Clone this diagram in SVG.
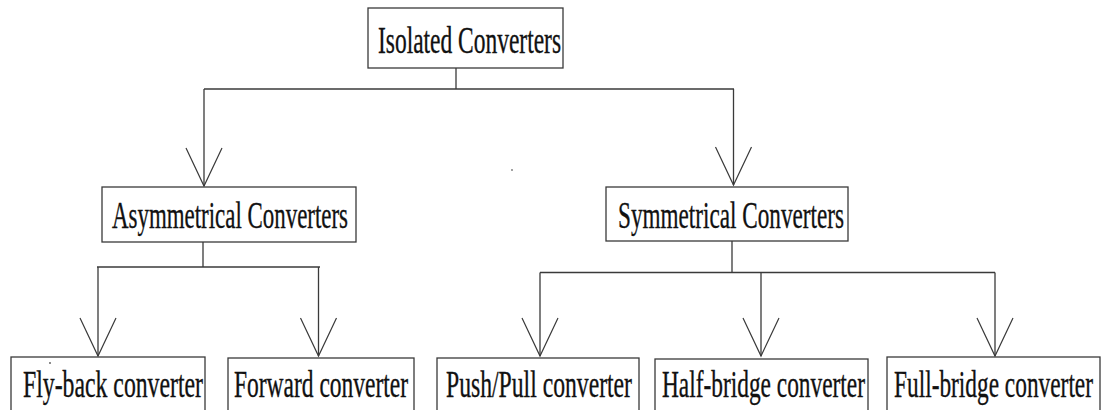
<svg xmlns="http://www.w3.org/2000/svg" width="1113" height="410" viewBox="0 0 1113 410">
  <style>
    .box { fill: #ffffff; stroke: #3a3a3a; stroke-width: 1.3; }
    .lbl { font-family: "Liberation Serif", "Times New Roman", serif; font-size: 37px; fill: #111111; stroke: #111111; stroke-width: 0.35; }
    .wire { fill: none; stroke: #3a3a3a; stroke-width: 1.3; }
    .arr { marker-end: url(#vee); }
  </style>
  <defs>
    <marker id="vee" markerUnits="userSpaceOnUse" viewBox="-40 -20 42 40" refX="0" refY="0" markerWidth="42" markerHeight="40" orient="auto" overflow="visible">
      <path d="M-38,-18 L0,0 L-38,18" fill="none" stroke="#3a3a3a" stroke-width="1.2"/>
    </marker>
  </defs>

  <rect width="1113" height="410" fill="#ffffff"/>

  <!-- connectors -->
  <g id="connectors">
    <!-- root to second level -->
    <path class="wire" d="M456,68 V89"/>
    <path class="wire" d="M204,89 H734"/>
    <path class="wire arr" d="M204,89 V186"/>
    <path class="wire arr" d="M733.5,89 V185"/>
    <!-- asymmetrical branch -->
    <path class="wire" d="M203,242 V267"/>
    <path class="wire" d="M97,267 H320"/>
    <path class="wire arr" d="M98,267 V356"/>
    <path class="wire arr" d="M318.5,267 V356"/>
    <!-- symmetrical branch -->
    <path class="wire" d="M732,241 V272.5"/>
    <path class="wire" d="M540,272.5 H995"/>
    <path class="wire arr" d="M540,272.5 V356"/>
    <path class="wire arr" d="M761,272.5 V356"/>
    <path class="wire arr" d="M995,272.5 V356"/>
  </g>

  <!-- top level -->
  <g id="isolated">
    <rect class="box" x="368" y="8" width="195" height="60"/>
    <text class="lbl" transform="translate(378,53) scale(0.63,1)" textLength="290.5" lengthAdjust="spacingAndGlyphs">Isolated Converters</text>
  </g>

  <!-- second level -->
  <g id="asymmetrical">
    <rect class="box" x="102" y="187" width="254" height="55"/>
    <text class="lbl" transform="translate(112,228) scale(0.63,1)" textLength="374.6" lengthAdjust="spacingAndGlyphs">Asymmetrical Converters</text>
  </g>
  <g id="symmetrical">
    <rect class="box" x="606" y="187" width="242" height="54"/>
    <text class="lbl" transform="translate(618,228) scale(0.63,1)" textLength="358.7" lengthAdjust="spacingAndGlyphs">Symmetrical Converters</text>
  </g>

  <!-- leaf level -->
  <g id="flyback">
    <rect class="box" x="11" y="357" width="194" height="60"/>
    <text class="lbl" transform="translate(23,397) scale(0.63,1)" textLength="285.7" lengthAdjust="spacingAndGlyphs">Fly-back converter</text>
    <circle cx="50" cy="363" r="0.9" fill="#555"/>
  </g>
  <g id="forward">
    <rect class="box" x="228" y="358" width="186" height="60"/>
    <text class="lbl" transform="translate(234,397) scale(0.63,1)" textLength="276.2" lengthAdjust="spacingAndGlyphs">Forward converter</text>
  </g>
  <g id="pushpull">
    <rect class="box" x="437" y="358" width="202" height="60"/>
    <text class="lbl" transform="translate(446,397) scale(0.63,1)" textLength="295.2" lengthAdjust="spacingAndGlyphs">Push/Pull converter</text>
  </g>
  <g id="halfbridge">
    <rect class="box" x="655" y="359" width="213" height="60"/>
    <text class="lbl" transform="translate(662,397) scale(0.63,1)" textLength="322.2" lengthAdjust="spacingAndGlyphs">Half-bridge converter</text>
  </g>
  <g id="fullbridge">
    <rect class="box" x="887" y="357" width="213" height="60"/>
    <text class="lbl" transform="translate(894,397) scale(0.63,1)" textLength="315.9" lengthAdjust="spacingAndGlyphs">Full-bridge converter</text>
  </g>

  <circle cx="512" cy="170" r="0.9" fill="#777"/>
</svg>
